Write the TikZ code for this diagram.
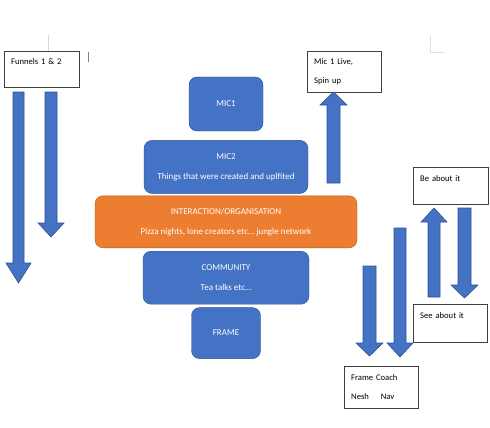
\documentclass[tikz,border=0pt]{standalone}
\usepackage{fontspec}
\setmainfont{Carlito}
\usetikzlibrary{positioning}
\definecolor{boxblue}{HTML}{4472C4}
\definecolor{lineblue}{HTML}{2F528F}
\definecolor{boxorange}{HTML}{ED7D31}
\definecolor{lineorange}{HTML}{AE5A21}
\tikzset{%
  % Specifications for style of nodes:
  base/.style = {rectangle, rounded corners=8pt, draw=lineblue,
    fill=boxblue, text=white, inner sep=0pt,
    align=center, font=\fontsize{9}{20}\selectfont},
  layer/.style = {base},
  hub/.style = {base, draw=lineorange, fill=boxorange},
  note/.style = {rectangle, draw=black!75, fill=white, anchor=north west,
    inner xsep=7pt, inner ysep=0pt, align=left,
    font=\fontsize{8.6}{19}\selectfont},
  blockarrow/.style = {draw=lineblue, fill=boxblue, line width=0.6pt},
}
% block arrow: x, tail y, tip y, half shaft width, head length
\newcommand{\blockarr}[5]{%
  \pgfmathsetmacro{\heady}{#3-#5*sign(#3-#2)}
  \draw[blockarrow] (#1-#4,#2) -- (#1-#4,\heady) -- (#1-#4-7,\heady) -- (#1,#3)
    -- (#1+#4+7,\heady) -- (#1+#4,\heady) -- (#1+#4,#2) -- cycle;
}

\begin{document}
\begin{tikzpicture}[x=1pt, y=-1pt]
  \useasboundingbox (0,0) rectangle (490,428);
  % page marks
  \draw[black!15] (48,35) -- (48,51);
  \draw[black!50, line width=0.8pt] (88,52) -- (88,62);
  \draw[black!12, line width=0.8pt] (430,36) -- (430,52) -- (445,52);
  % Specification of nodes (position, etc.)
  \node (Mic1) [layer, minimum width=74pt, minimum height=54pt] at (226,104) {MIC1};
  \node (Mic2) [layer, minimum width=164pt, minimum height=53pt, below=9pt of Mic1]
    {MIC2 \\ Things that were created and uplfited};
  \node (Inter) [hub, minimum width=262pt, minimum height=52pt, below=2pt of Mic2]
    {INTERACTION/ORGANISATION \\ Pizza nights, lone creators etc… jungle network};
  \node (Comm) [layer, minimum width=166pt, minimum height=53pt, below=3pt of Inter]
    {COMMUNITY \\ Tea talks etc…};
  \node (Frame) [layer, minimum width=69pt, minimum height=51pt, below=3pt of Comm] {FRAME};

  \node (Funnels) [note, text width=61pt, minimum height=36pt] at (4,51)
    {Funnels 1 \& 2 \\[-10pt] \strut};
  \node (MicLive) [note, text width=60pt, minimum height=41pt] at (307,51)
    {Mic 1 Live, \\ Spin up};
  \node (BeAbout) [note, text width=61pt, minimum height=37pt] at (413,167)
    {Be about it \\[-10pt] \strut};
  \node (SeeAbout) [note, text width=60pt, minimum height=38pt] at (413,304)
    {See about it \\[-10pt] \strut};
  \node (Coach) [note, text width=60pt, minimum height=42pt] at (344,366)
    {Frame Coach \\ Nesh\hspace{12pt}Nav};

  % arrows
  \blockarr{18.5}{92}{283}{5.5}{20}
  \blockarr{51}{92}{237}{6}{14}
  \blockarr{333.5}{183}{92}{6.5}{13}
  \blockarr{434}{297}{208}{6}{14}
  \blockarr{464.5}{208}{298}{6.5}{13}
  \blockarr{369.5}{266}{356}{6.5}{13}
  \blockarr{400}{228}{357}{6}{14}
\end{tikzpicture}
\end{document}
